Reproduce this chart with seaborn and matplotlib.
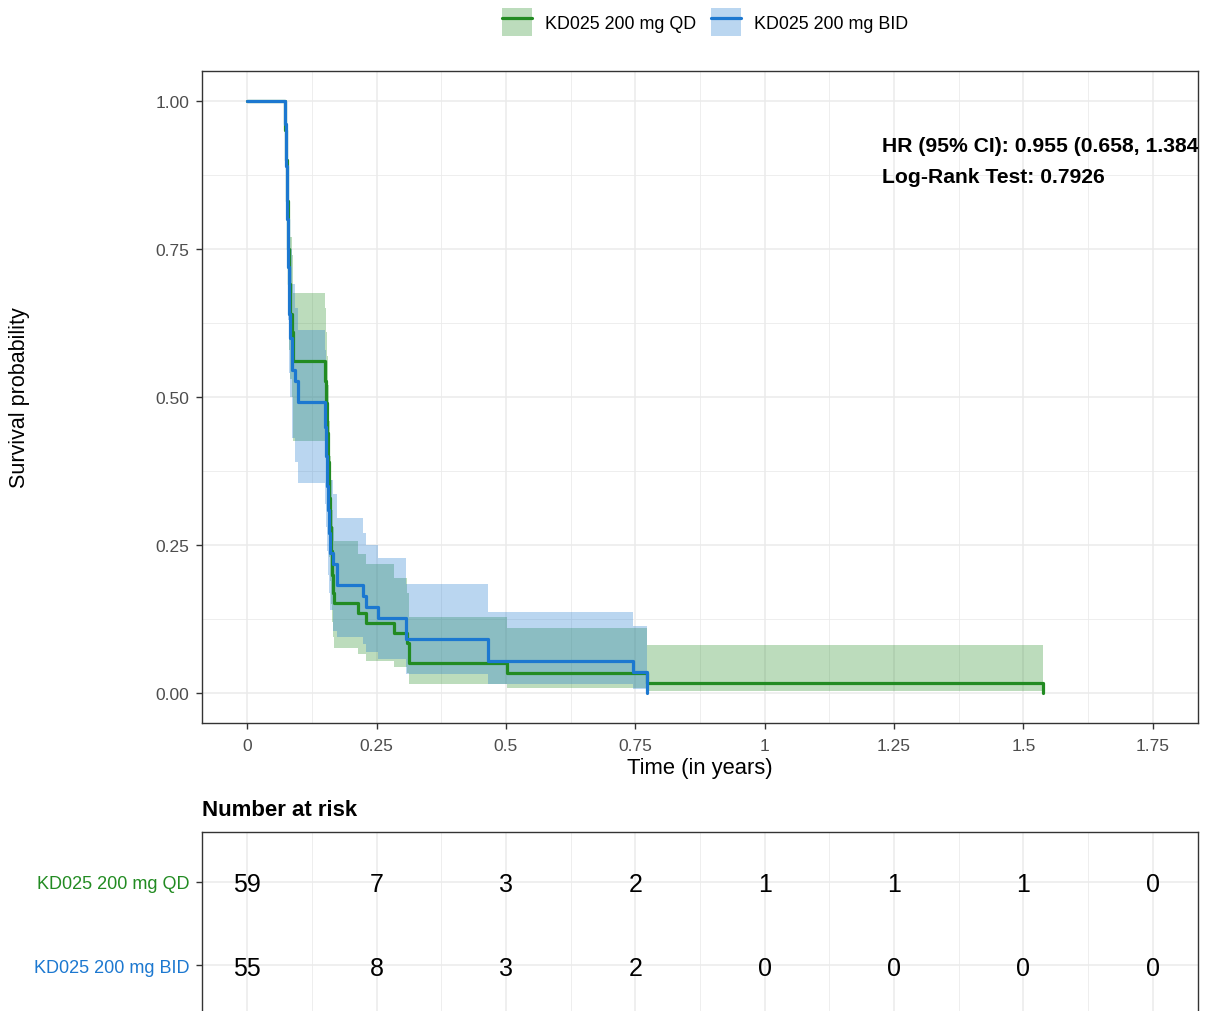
import matplotlib
matplotlib.use("Agg")
import matplotlib.pyplot as plt
from matplotlib.ticker import MultipleLocator, FixedLocator
from matplotlib.patches import Patch
from matplotlib.lines import Line2D
import seaborn as sns
import pandas as pd
import numpy as np

# ---------------- data ----------------
groups = ["KD025 200 mg QD", "KD025 200 mg BID"]
colors = ["#228B22", "#1C78D0"]

qd_time = [0, 0.0735, 0.0755, 0.0775, 0.0795, 0.0815, 0.0835, 0.0855, 0.0885,
           0.150, 0.152, 0.154, 0.156, 0.158, 0.160, 0.162, 0.164, 0.166, 0.168,
           0.2135, 0.230, 0.284, 0.309, 0.312, 0.502, 0.773, 1.537]
qd_surv = [1.0, 0.95, 0.90, 0.83, 0.75, 0.69, 0.64, 0.61, 0.561,
           0.527, 0.49, 0.44, 0.39, 0.33, 0.28, 0.24, 0.20, 0.17, 0.153,
           0.136, 0.119, 0.102, 0.085, 0.051, 0.034, 0.017, 0.0]
qd_upper = [1.0, 1.0, 0.98, 0.93, 0.86, 0.81, 0.77, 0.74, 0.675,
            0.65, 0.61, 0.57, 0.52, 0.46, 0.40, 0.36, 0.31, 0.28, 0.257,
            0.235, 0.218, 0.195, 0.17, 0.128, 0.11, 0.081, 0.0]
qd_lower = [1.0, 0.90, 0.83, 0.75, 0.65, 0.58, 0.53, 0.50, 0.425,
            0.40, 0.37, 0.32, 0.28, 0.23, 0.19, 0.15, 0.12, 0.095, 0.077,
            0.066, 0.055, 0.044, 0.035, 0.016, 0.009, 0.004, 0.0]

bid_time = [0, 0.0735, 0.0755, 0.0775, 0.0795, 0.0815, 0.0835, 0.0855, 0.0870,
            0.0925, 0.0990, 0.150, 0.152, 0.154, 0.156, 0.158, 0.159, 0.165,
            0.174, 0.223, 0.230, 0.252, 0.307, 0.465, 0.745, 0.772]
bid_surv = [1.0, 0.96, 0.89, 0.80, 0.72, 0.64, 0.60, 0.564, 0.545,
            0.527, 0.491, 0.45, 0.40, 0.35, 0.31, 0.27, 0.236, 0.218,
            0.182, 0.164, 0.145, 0.127, 0.091, 0.055, 0.036, 0.0]
bid_upper = [1.0, 1.0, 0.98, 0.92, 0.85, 0.78, 0.75, 0.71, 0.69,
             0.65, 0.613, 0.58, 0.53, 0.48, 0.44, 0.40, 0.36, 0.336,
             0.296, 0.271, 0.251, 0.229, 0.185, 0.138, 0.113, 0.0]
bid_lower = [1.0, 0.91, 0.82, 0.72, 0.63, 0.54, 0.50, 0.46, 0.43,
             0.39, 0.355, 0.32, 0.28, 0.24, 0.20, 0.17, 0.14, 0.105,
             0.095, 0.083, 0.07, 0.058, 0.032, 0.016, 0.008, 0.0]

risk_times = [0, 0.25, 0.5, 0.75, 1.0, 1.25, 1.5, 1.75]
risk_qd = [59, 7, 3, 2, 1, 1, 1, 0]
risk_bid = [55, 8, 3, 2, 0, 0, 0, 0]

x_ticks = [0, 0.25, 0.5, 0.75, 1.0, 1.25, 1.5, 1.75]
x_ticklabels = ["0", "0.25", "0.5", "0.75", "1", "1.25", "1.5", "1.75"]
y_ticks = [0, 0.25, 0.5, 0.75, 1.0]
y_ticklabels = ["0.00", "0.25", "0.50", "0.75", "1.00"]

hr_text = "HR (95% CI): 0.955 (0.658, 1.384)"
lr_text = "Log-Rank Test: 0.7926"

# ---------------- style ----------------
sns.set_theme(style="white")
plt.rcParams["font.family"] = ["Liberation Sans", "DejaVu Sans"]
plt.rcParams["text.color"] = "black"

W, H = 1205, 1012
fig = plt.figure(figsize=(W / 100, H / 100), dpi=100)

def fx(px):
    return px / W

def fy(py):
    return 1 - py / H

ax = fig.add_axes([fx(202), fy(724), fx(1198) - fx(202), fy(72) - fy(724)])
axt = fig.add_axes([fx(202), fy(1016), fx(1198) - fx(202), fy(833) - fy(1016)])

xlim = (-0.0875, 1.8375)
grid_c = "#EBEBEB"
spine_c = "#333333"
tick_lab_c = "#4D4D4D"

df = pd.concat([
    pd.DataFrame({"time": qd_time, "surv": qd_surv, "group": groups[0]}),
    pd.DataFrame({"time": bid_time, "surv": bid_surv, "group": groups[1]}),
])

bands = [(qd_time, qd_lower, qd_upper), (bid_time, bid_lower, bid_upper)]
for (t, lo, up), c in zip(bands, colors):
    ax.fill_between(t, lo, up, step="post", color=c, alpha=0.3, linewidth=0, zorder=2)

sns.lineplot(data=df, x="time", y="surv", hue="group", hue_order=groups,
             palette=colors, drawstyle="steps-post", estimator=None, sort=False,
             linewidth=2.3, legend=False, ax=ax, zorder=3)

for a in (ax, axt):
    a.set_xlim(*xlim)
    a.xaxis.set_major_locator(FixedLocator(x_ticks))
    a.xaxis.set_minor_locator(MultipleLocator(0.125))
    a.grid(which="major", color=grid_c, linewidth=1.1, zorder=0)
    a.grid(which="minor", axis="x", color=grid_c, linewidth=0.6, zorder=0)
    a.set_axisbelow(True)
    for s in a.spines.values():
        s.set_color(spine_c)
        s.set_linewidth(1.0)
    a.tick_params(which="minor", length=0)
    a.tick_params(which="major", direction="out", length=4, width=1,
                  color=spine_c, labelcolor=tick_lab_c, labelsize=12.5,
                  pad=5, bottom=True, left=True)

ax.set_ylim(-0.05, 1.05)
ax.yaxis.set_major_locator(FixedLocator(y_ticks))
ax.yaxis.set_minor_locator(MultipleLocator(0.125))
ax.grid(which="minor", axis="y", color=grid_c, linewidth=0.6, zorder=0)
ax.set_xticklabels(x_ticklabels)
ax.set_yticklabels(y_ticklabels)
ax.tick_params(axis="x", pad=7)
ax.set_xlabel("Time (in years)", fontsize=15.8, color="black", labelpad=3)
ax.set_ylabel("")
fig.text(fx(20), fy(398), "Survival probability", rotation=90, fontsize=15.5,
         ha="center", va="center", color="black")

ax.text(1.226, 0.924, hr_text, fontsize=15.2, fontweight="bold", ha="left",
        va="center", clip_on=True, zorder=5, color="black")
ax.text(1.226, 0.872, lr_text, fontsize=15.2, fontweight="bold", ha="left",
        va="center", clip_on=True, zorder=5, color="black")

# legend
handles = [(Patch(facecolor=c, alpha=0.3, edgecolor="none"),
            Line2D([], [], color=c, linewidth=2.3)) for c in colors]
fig.legend(handles, groups, loc="center", bbox_to_anchor=(fx(705), fy(23)),
           ncol=2, frameon=False, fontsize=12.9, handlelength=1.68,
           handleheight=2.1, handletextpad=0.75, columnspacing=0.8)

# risk table
axt.set_ylim(1.6, -0.6)
axt.yaxis.set_major_locator(FixedLocator([0, 1]))
axt.set_yticklabels(groups, fontsize=13)
for lab, c in zip(axt.get_yticklabels(), colors):
    lab.set_color(c)
axt.tick_params(axis="x", labelbottom=False, bottom=False)
for row, vals in enumerate([risk_qd, risk_bid]):
    for t, v in zip(risk_times, vals):
        axt.text(t, row, str(v), ha="center", va="center_baseline", fontsize=18,
                 color="black")
axt.set_xlabel("")
axt.set_ylabel("")
fig.text(fx(202), fy(811), "Number at risk", fontsize=16, fontweight="bold",
         ha="left", va="center")

fig.savefig("out.png", dpi=100)
